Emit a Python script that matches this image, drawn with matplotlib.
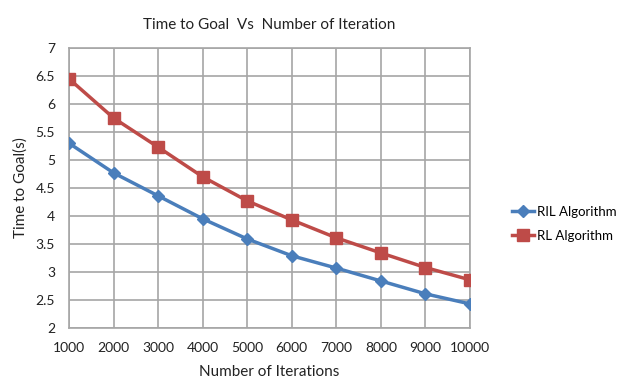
import matplotlib
matplotlib.use("Agg")
import matplotlib.pyplot as plt

iterations = [1000, 2000, 3000, 4000, 5000, 6000, 7000, 8000, 9000, 10000]
ril = [5.30, 4.77, 4.36, 3.95, 3.59, 3.29, 3.07, 2.84, 2.61, 2.43]
rl = [6.45, 5.75, 5.23, 4.70, 4.27, 3.93, 3.61, 3.34, 3.08, 2.86]
y_ticks = [2, 2.5, 3, 3.5, 4, 4.5, 5, 5.5, 6, 6.5, 7]

plt.rcParams['font.family'] = ['Lato', 'DejaVu Sans']

fig = plt.figure(figsize=(6.28, 3.82), dpi=100)
ax = fig.add_axes([69/628, 54/382, 401/628, 280/382])

pos = list(range(len(iterations)))
blue = '#4a7ebb'
red = '#be4b48'
ax.plot(pos, ril, color=blue, lw=2.5, marker='D', ms=6, label='RIL Algorithm', zorder=3)
ax.plot(pos, rl, color=red, lw=2.5, marker='s', ms=8, label='RL Algorithm', zorder=3)

ax.set_xlim(0, len(iterations) - 1)
ax.set_ylim(2, 7)
ax.set_xticks(pos)
ax.set_xticklabels([str(v) for v in iterations])
ax.set_yticks(y_ticks)
ax.set_yticklabels([f"{v:g}" for v in y_ticks])
ax.grid(True, color='#a6a6a6', lw=1.2)
ax.set_axisbelow(True)
for s in ax.spines.values():
    s.set_color('#a6a6a6')
    s.set_linewidth(1.2)
ax.tick_params(axis='x', length=0, labelsize=10, colors='#222222', pad=10)
ax.tick_params(axis='y', length=0, labelsize=10, colors='#222222', pad=10)

ax.set_title('Time to Goal  Vs  Number of Iteration', fontsize=11, pad=14, color='#222222')
ax.set_xlabel('Number of Iterations', fontsize=11, labelpad=8, color='#222222')
ax.set_ylabel('Time to Goal(s)', fontsize=11, labelpad=6, color='#222222')

leg = fig.legend(loc='center left', bbox_to_anchor=(512/628, 1 - 224/382), frameon=False,
                 fontsize=9.5, handlelength=1.7, handletextpad=0.2, labelspacing=0.9,
                 borderaxespad=0, borderpad=0)

fig.savefig('out.png', dpi=100, facecolor='white')
